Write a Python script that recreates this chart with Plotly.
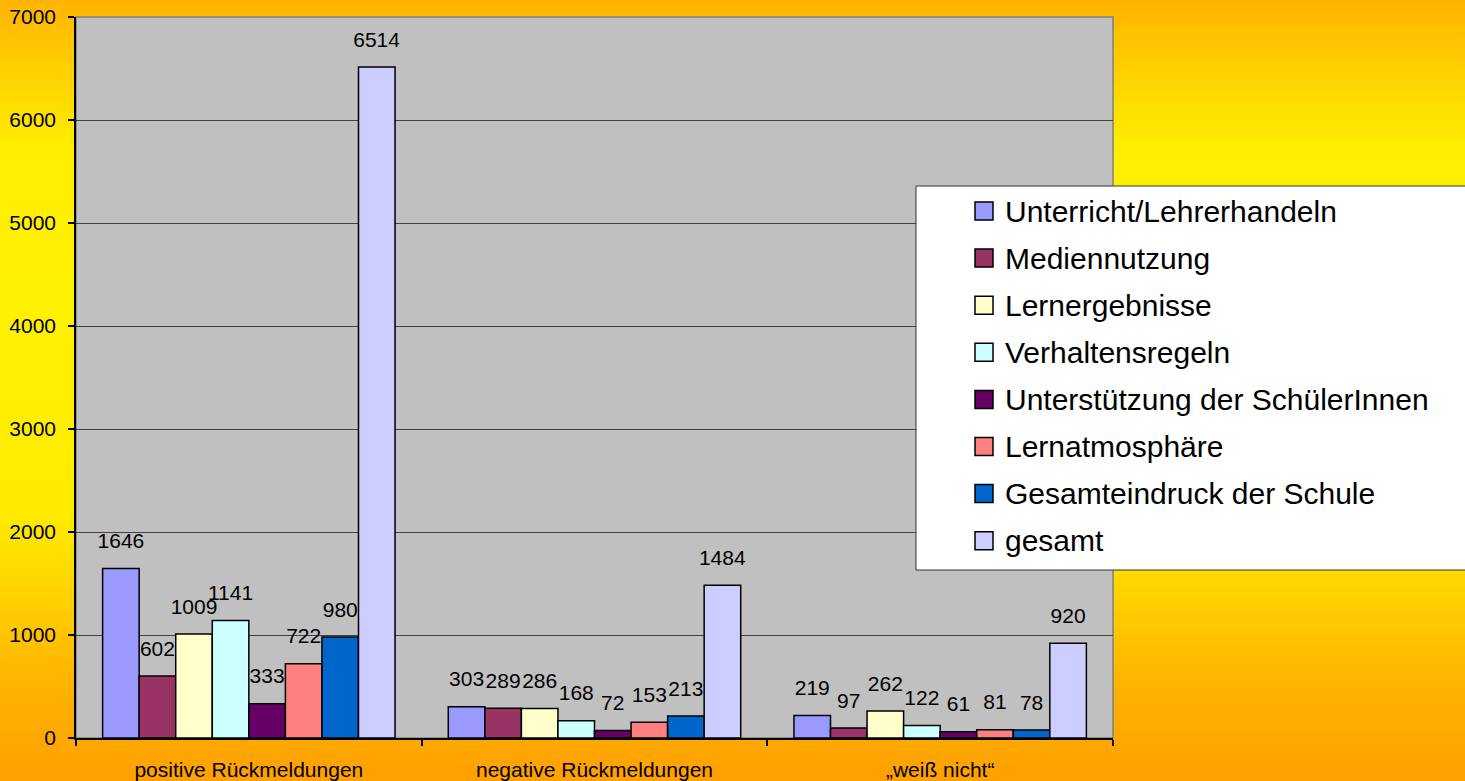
import plotly.graph_objects as go

categories = ["positive Rückmeldungen", "negative Rückmeldungen", "„weiß nicht“"]
series_names = [
    "Unterricht/Lehrerhandeln",
    "Mediennutzung",
    "Lernergebnisse",
    "Verhaltensregeln",
    "Unterstützung der SchülerInnen",
    "Lernatmosphäre",
    "Gesamteindruck der Schule",
    "gesamt",
]
unterricht = [1646, 303, 219]
mediennutzung = [602, 289, 97]
lernergebnisse = [1009, 286, 262]
verhaltensregeln = [1141, 168, 122]
unterstuetzung = [333, 72, 61]
lernatmosphaere = [722, 153, 81]
gesamteindruck = [980, 213, 78]
gesamt = [6514, 1484, 920]
series_values = [unterricht, mediennutzung, lernergebnisse, verhaltensregeln,
                 unterstuetzung, lernatmosphaere, gesamteindruck, gesamt]
y_ticks = [0, 1000, 2000, 3000, 4000, 5000, 6000, 7000]

colors = ["#9999FF", "#993366", "#FFFFCC", "#CCFFFF",
          "#660066", "#FF8080", "#0066CC", "#CCCCFF"]

W, H = 1465, 781
L, R, T, B = 76, 1113, 17, 738  # plot area in pixels


def px(x):
    return (x - L) / (R - L)


def py(y):
    return (B - y) / (B - T)


font_family = "Liberation Sans, Arial, sans-serif"
fig = go.Figure()

label_lift = 130  # invisible spacer so value labels float above bars
for i, (name, vals) in enumerate(zip(series_names, series_values)):
    fig.add_trace(go.Bar(
        x=categories, y=vals, name=name, offsetgroup=str(i),
        marker=dict(color=colors[i], line=dict(color="black", width=1.5)),
        showlegend=False,
    ))
    fig.add_trace(go.Bar(
        x=categories, y=[label_lift] * len(vals), base=vals, offsetgroup=str(i),
        marker=dict(color="rgba(0,0,0,0)", line=dict(width=0)),
        text=[str(v) for v in vals], textposition="outside",
        textfont=dict(size=21, color="black", family=font_family),
        constraintext="none", cliponaxis=False, showlegend=False,
        hoverinfo="skip",
    ))

shapes = []
# background gradient (vertical)
stops = [(0, (255, 180, 0)), (150, (255, 238, 0)), (300, (255, 242, 0)),
         (520, (255, 234, 0)), (600, (255, 208, 0)), (680, (255, 180, 0)),
         (781, (255, 160, 0))]


def grad(y):
    for (y0, c0), (y1, c1) in zip(stops[:-1], stops[1:]):
        if y0 <= y <= y1:
            t = (y - y0) / (y1 - y0)
            return tuple(int(round(a + (b - a) * t)) for a, b in zip(c0, c1))
    return stops[-1][1]


step = 6
for y0 in range(0, H, step):
    c = grad(y0 + step / 2)
    shapes.append(dict(type="rect", xref="paper", yref="paper",
                       x0=px(-5), x1=px(W + 5), y0=py(y0 + step + 0.5), y1=py(y0 - 0.5),
                       fillcolor="rgb(%d,%d,%d)" % c, line=dict(width=0), layer="below"))
# plot area background
shapes.append(dict(type="rect", xref="paper", yref="paper", x0=0, x1=1, y0=0, y1=1,
                   fillcolor="#C0C0C0", line=dict(color="#808080", width=1.5), layer="below"))

# custom legend
shapes.append(dict(type="rect", xref="paper", yref="paper",
                   x0=px(916), x1=px(1475), y0=py(570), y1=py(186),
                   fillcolor="white", line=dict(color="#333333", width=1), layer="above"))
annotations = []
entry_y0, entry_dy = 211, 47.1
for i, name in enumerate(series_names):
    cy = entry_y0 + i * entry_dy
    shapes.append(dict(type="rect", xref="paper", yref="paper",
                       x0=px(975), x1=px(993), y0=py(cy + 9), y1=py(cy - 9),
                       fillcolor=colors[i], line=dict(color="black", width=1.5), layer="above"))
    annotations.append(dict(x=px(1003), y=py(cy), xref="paper", yref="paper",
                            text=name, showarrow=False, xanchor="left", yanchor="middle",
                            font=dict(size=30, color="black", family=font_family)))

fig.update_layout(
    width=W, height=H,
    margin=dict(l=L, r=W - R, t=T, b=H - B, pad=0, autoexpand=False),
    paper_bgcolor="#FFD000",
    plot_bgcolor="rgba(0,0,0,0)",
    barmode="group", bargap=0.154, bargroupgap=0,
    showlegend=False,
    shapes=shapes, annotations=annotations,
    font=dict(family=font_family, color="black", size=20),
)
fig.update_xaxes(
    type="category", tickson="boundaries", ticks="outside", ticklen=6,
    tickcolor="black", tickwidth=1.5, automargin=False,
    showline=True, linecolor="black", linewidth=1.5, showgrid=False,
    tickfont=dict(size=21), ticklabelstandoff=12,
)
fig.update_yaxes(
    range=[0, 7000], tickvals=y_ticks, ticks="outside", ticklen=6,
    tickcolor="black", tickwidth=1.5, automargin=False,
    showline=True, linecolor="black", linewidth=1.5,
    showgrid=True, gridcolor="#404040", gridwidth=1, zeroline=False,
    tickfont=dict(size=21), ticklabelstandoff=8,
)

fig.write_html("out.html",
               config={"displayModeBar": False},
               post_script="document.body.style.margin='0';document.body.style.overflow='hidden';")
